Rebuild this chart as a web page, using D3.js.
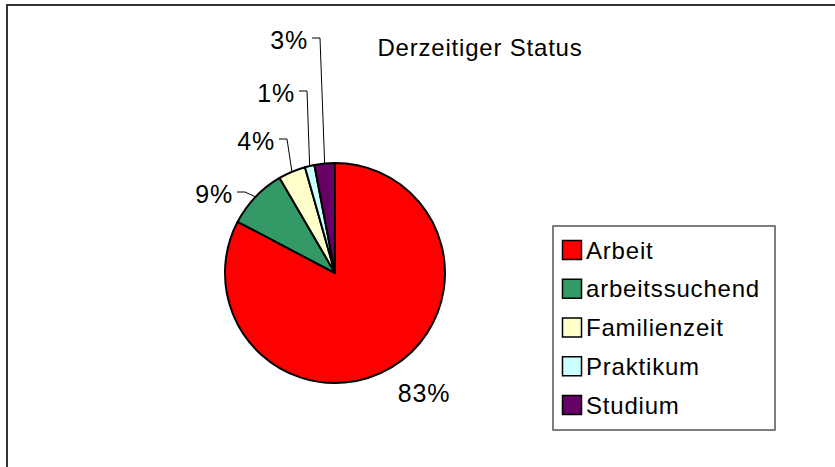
<!DOCTYPE html>
<html lang="de">
<head>
    <meta charset="UTF-8">
    <title>Derzeitiger Status</title>
    <script src="https://d3js.org/d3.v7.min.js"></script>
    <style>
        body { margin: 0; background: #fff; }
        text { font-family: "Liberation Sans", Arial, sans-serif; fill: #000; }
    </style>
</head>
<body>
    <script>
        // DATA
        var categories = ["Arbeit", "arbeitssuchend", "Familienzeit", "Praktikum", "Studium"];
        var values = [82.7, 8.9, 4.0, 1.4, 3.0];
        var colors = ["#ff0000", "#339966", "#ffffcc", "#ccffff", "#660066"];
        var title = "Derzeitiger Status";

        // label elbows relative to pie centre (dragged by hand in the original)
        var labelElbow = [[89, 120], [-90, -81], [-48, -134], [-28, -182], [-15, -235]];
        var hasLeader = [false, true, true, true, true];

        var width = 835, height = 467;
        var cx = 335, cy = 273, radius = 110;

        var svg = d3.select("body").append("svg")
            .attr("width", width)
            .attr("height", height);

        // frame (only top and left edges visible)
        svg.append("path")
            .attr("d", "M7,467 V5 H835")
            .attr("fill", "none")
            .attr("stroke", "#333")
            .attr("stroke-width", 2);

        svg.append("text")
            .attr("x", 480)
            .attr("y", 56)
            .attr("text-anchor", "middle")
            .attr("font-size", "24px")
            .attr("letter-spacing", "0.8px")
            .text(title);

        var total = d3.sum(values);
        var pie = d3.pie().sort(null).value(function(d) { return d; });
        var arcs = pie(values);
        var arc = d3.arc().innerRadius(0).outerRadius(radius);

        var g = svg.append("g").attr("transform", "translate(" + cx + "," + cy + ")");

        g.selectAll(".slice")
            .data(arcs)
            .enter().append("path")
            .attr("class", "slice")
            .attr("d", arc)
            .attr("fill", function(d, i) { return colors[i]; })
            .attr("stroke", "#000")
            .attr("stroke-width", 2)
            .attr("stroke-linejoin", "round");

        // leader lines
        var segLen = 8;
        arcs.forEach(function(d, i) {
            if (!hasLeader[i]) return;
            var a = (d.startAngle + d.endAngle) / 2;
            var px = radius * Math.sin(a), py = -radius * Math.cos(a);
            var e = labelElbow[i];
            g.append("path")
                .attr("d", "M" + px + "," + py + " L" + e[0] + "," + e[1] + " H" + (e[0] - segLen))
                .attr("fill", "none")
                .attr("stroke", "#000")
                .attr("stroke-width", 1);
        });

        g.selectAll(".lbl")
            .data(arcs)
            .enter().append("text")
            .attr("class", "lbl")
            .attr("font-size", "25px")
            .attr("letter-spacing", "0.8px")
            .attr("text-anchor", function(d, i) { return hasLeader[i] ? "end" : "middle"; })
            .attr("x", function(d, i) { return hasLeader[i] ? labelElbow[i][0] - segLen - 4 : labelElbow[i][0]; })
            .attr("y", function(d, i) { return labelElbow[i][1] + (hasLeader[i] ? 11 : 9); })
            .text(function(d) { return Math.round(d.value / total * 100) + "%"; });

        // legend
        var legend = svg.append("g").attr("transform", "translate(553,226)");
        legend.append("rect")
            .attr("width", 222)
            .attr("height", 204)
            .attr("fill", "#fff")
            .attr("stroke", "#555")
            .attr("stroke-width", 1.5);

        var rowY = d3.scalePoint().domain(categories).range([24, 179]);

        var item = legend.selectAll(".item")
            .data(categories)
            .enter().append("g")
            .attr("class", "item")
            .attr("transform", function(d) { return "translate(0," + rowY(d) + ")"; });

        item.append("rect")
            .attr("x", 9.5)
            .attr("y", -9.5)
            .attr("width", 19)
            .attr("height", 19)
            .attr("fill", function(d, i) { return colors[i]; })
            .attr("stroke", "#000")
            .attr("stroke-width", 1.5);

        item.append("text")
            .attr("x", 33)
            .attr("y", 8.5)
            .attr("font-size", "24px")
            .attr("letter-spacing", "0.8px")
            .text(function(d) { return d; });
    </script>
</body>
</html>
